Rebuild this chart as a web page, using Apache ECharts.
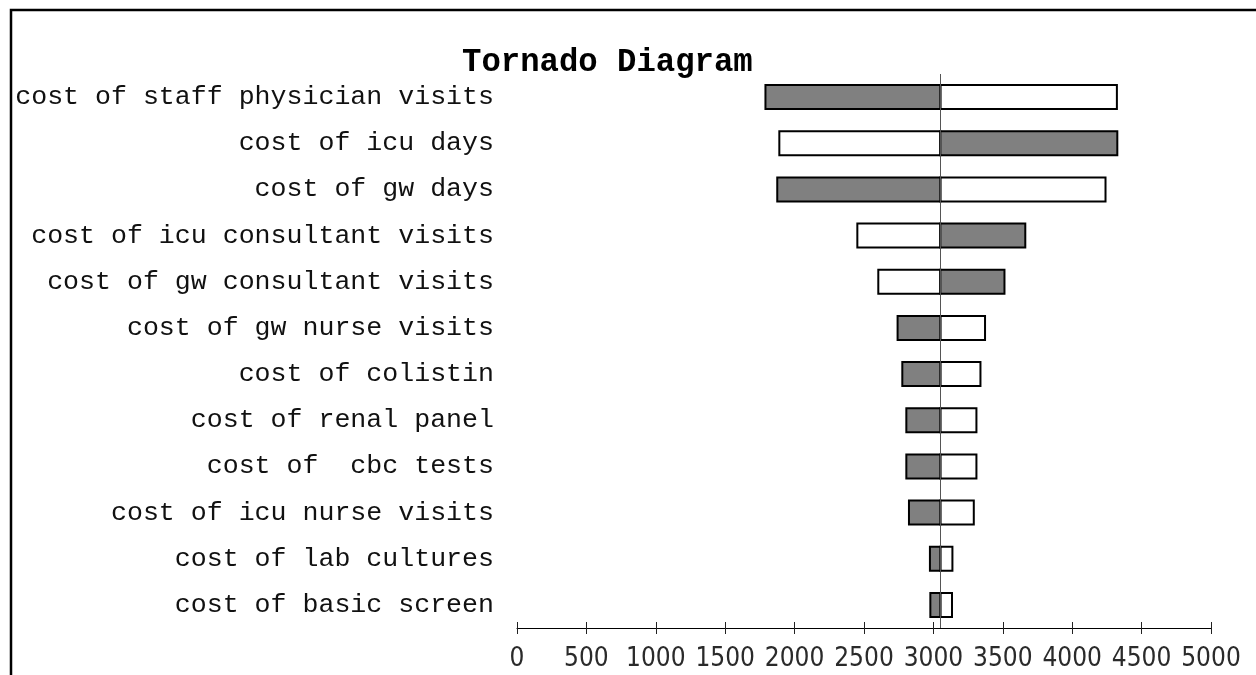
<!DOCTYPE html>
<html>
<head>
<meta charset="utf-8">
<script src="https://cdn.jsdelivr.net/npm/echarts@6/dist/echarts.min.js"></script>
<style>
html,body{margin:0;padding:0;background:#fff;}
#chart{width:1256px;height:675px;}
</style>
</head>
<body>
<div id="chart"></div>
<script>
// ---- data ----
const titleText = 'Tornado Diagram';
const categories = [
  'cost of staff physician visits',
  'cost of icu days',
  'cost of gw days',
  'cost of icu consultant visits',
  'cost of gw consultant visits',
  'cost of gw nurse visits',
  'cost of colistin',
  'cost of renal panel',
  'cost of  cbc tests',
  'cost of icu nurse visits',
  'cost of lab cultures',
  'cost of basic screen'
];
const baseValue = 3050;
// end of the gray (filled) bar for each row
const grayEnd = [1790, 4325, 1875, 3662, 3512, 2742, 2776, 2805, 2805, 2824, 2975, 2978];
// end of the white (hollow) bar for each row
const whiteEnd = [4322, 1890, 4240, 2452, 2603, 3372, 3339, 3310, 3310, 3291, 3137, 3134];
const xTicks = [0, 500, 1000, 1500, 2000, 2500, 3000, 3500, 4000, 4500, 5000];

const seriesData = categories.map((c, i) => [i, grayEnd[i], whiteEnd[i]]);

const chart = echarts.init(document.getElementById('chart'));

function renderItem(params, api) {
  const cat = api.value(0);
  const g = api.value(1);
  const w = api.value(2);
  const band = api.size([0, 1])[1];
  const h = band * 0.52;
  const pBase = api.coord([baseValue, cat]);
  const pG = api.coord([g, cat]);
  const pW = api.coord([w, cat]);
  const y = pBase[1] - h / 2;
  const mk = (x1, x2, fill) => ({
    type: 'rect',
    shape: { x: Math.min(x1, x2), y: y, width: Math.abs(x2 - x1), height: h },
    style: { fill: fill, stroke: '#000', lineWidth: 2 }
  });
  return {
    type: 'group',
    children: [
      mk(pBase[0], pW[0], '#ffffff'),
      mk(pBase[0], pG[0], '#808080')
    ]
  };
}

const axisCommon = {
  type: 'value',
  min: 0,
  max: 5000,
  interval: 500,
  position: 'bottom',
  splitLine: { show: false }
};

const option = {
  animation: false,
  backgroundColor: '#fff',
  title: {
    text: titleText,
    left: 457,
    top: 42,
    textStyle: { fontFamily: 'Liberation Mono', fontWeight: 'bold', fontSize: 32.3, color: '#000' }
  },
  graphic: [{
    type: 'rect',
    shape: { x: 11, y: 10, width: 1300, height: 720 },
    style: { fill: 'none', stroke: '#000', lineWidth: 2.5 },
    silent: true
  }],
  grid: { left: 517, right: 45, top: 74, bottom: 47 },
  xAxis: [
    Object.assign({}, axisCommon, {
      axisLine: { show: true, lineStyle: { color: '#000', width: 1 } },
      axisTick: { show: true, inside: false, length: 6, lineStyle: { color: '#222', width: 1 } },
      axisLabel: {
        show: true, margin: 18,
        fontFamily: 'DejaVu Sans Condensed', fontSize: 26, color: '#2a2a2a',
        formatter: v => (xTicks.indexOf(v) >= 0 ? String(v) : '')
      }
    }),
    Object.assign({}, axisCommon, {
      axisLine: { show: false },
      axisTick: { show: true, inside: true, length: 6, lineStyle: { color: '#222', width: 1 } },
      axisLabel: { show: false }
    })
  ],
  yAxis: {
    type: 'category',
    data: categories,
    inverse: true,
    axisLine: { show: false },
    axisTick: { show: false },
    axisLabel: { margin: 23, fontFamily: 'Liberation Mono', fontSize: 26.6, color: '#111' }
  },
  series: [{
    type: 'custom',
    renderItem: renderItem,
    encode: { y: 0, x: [1, 2] },
    data: seriesData,
    markLine: {
      silent: true,
      symbol: 'none',
      label: { show: false },
      lineStyle: { color: '#555', width: 1, type: 'solid' },
      data: [{ xAxis: baseValue }]
    },
    z: 3
  }]
};
chart.setOption(option);
</script>
</body>
</html>
